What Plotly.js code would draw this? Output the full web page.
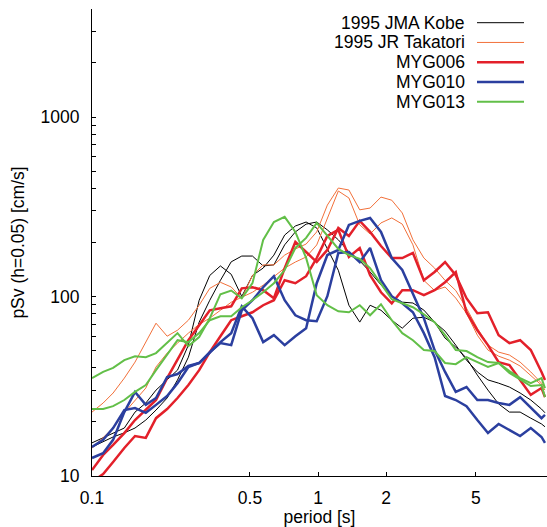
<!DOCTYPE html>
<html><head><meta charset="utf-8">
<script src="https://cdn.plot.ly/plotly-3.0.1.min.js"></script>
<style>html,body{margin:0;padding:0;background:#fff}#chart{width:547px;height:527px}</style>
</head><body><div id="chart"></div>
<script>
const periods = [0.1, 0.112, 0.124, 0.139, 0.155, 0.173, 0.192, 0.215, 0.239, 0.267, 0.298, 0.332, 0.370, 0.413, 0.460, 0.513, 0.572, 0.638, 0.712, 0.794, 0.886, 0.987, 1.10, 1.23, 1.37, 1.53, 1.70, 1.90, 2.12, 2.36, 2.63, 2.94, 3.28, 3.65, 4.07, 4.54, 5.07, 5.65, 6.30, 7.03, 7.84, 8.74, 9.75, 10.1];

const kobeA = [15.3, 16.3, 17.4, 18.5, 22.7, 25.5, 30.1, 34.3, 38.9, 53.6, 95.3, 131, 148, 133, 100, 131, 144, 170, 220, 247, 260, 241, 186, 140, 89.4, 72, 89.4, 83.8, 73.8, 66.6, 75.7, 76.6, 72, 64.1, 53.6, 44.2, 38, 34.3, 32.9, 31.3, 29, 26.5, 23.6, 22.5];
const kobeB = [14.5, 15.5, 16.5, 17.4, 18.5, 20.5, 23.3, 27.2, 34.3, 45.9, 72, 95.3, 123, 156, 168, 168, 148, 150, 194, 229, 253, 260, 235, 207, 177, 158, 137, 116, 100, 93, 92, 84, 72, 58.6, 52.3, 45.3, 36.5, 30.1, 25.2, 22.7, 22.7, 21, 19.5, 18.8];

const takatoriA = [22.7, 25.5, 29.0, 35.1, 43.1, 55.7, 71.0, 60.1, 64.9, 73.8, 89.4, 111, 120, 113, 97.8, 131, 150, 150, 170, 184, 196, 229, 323, 402, 392, 304, 311, 358, 344, 292, 207, 164, 144, 123, 108, 86, 66.6, 53.6, 49, 47.2, 43.1, 38, 32.9, 30.9];
const takatoriB = [14.3, 16.3, 18.5, 22.5, 26.5, 30.9, 40.5, 48.4, 55, 62.5, 70, 75.7, 83.8, 92.9, 99.1, 105.6, 115.6, 129.7, 144, 155.6, 166, 193.7, 274, 387, 354, 250.6, 223, 257, 274, 253, 194, 123, 108, 113, 98, 80.6, 60.9, 50.3, 46.5, 44.2, 41, 36.5, 32.1, 30.1];

const myg006A = [10.8, 13.1, 14.9, 17.35, 20.5, 23.3, 26.5, 35.1, 44.2, 57.1, 69.2, 83.8, 86, 88.2, 111, 112.6, 108.4, 97.8, 144, 201.3, 177, 155.6, 181.7, 241.1, 217.5, 263.8, 229, 191.2, 163.8, 163.8, 174.8, 123.2, 136.9, 155.6, 131.4, 97.8, 80.6, 81.7, 60.9, 55, 57.1, 50.3, 38, 34.3];
const myg006B = [9.26, 10.26, 11.97, 14.32, 16.7, 16.3, 21, 23.6, 27.2, 32.1, 38.9, 49, 60.1, 73.8, 77.6, 81.7, 89.4, 95.3, 123.2, 118.6, 129.7, 163.8, 217.5, 235, 166, 186.4, 131.4, 105.6, 91.7, 108.4, 108.4, 101.7, 108.4, 120.1, 136.9, 81.7, 64.9, 53.6, 43.1, 41.5, 34.3, 28.3, 30.9, 27.5];

const myg010A = [12.6, 13.4, 15.9, 22.7, 29.4, 24.9, 27.2, 35.6, 37, 41, 42.6, 48.4, 55.7, 62.5, 88.2, 75.7, 55.7, 60.9, 53.6, 60.1, 66.6, 118.6, 170.3, 181.7, 250.6, 263.8, 274, 229, 163.8, 140.4, 103, 75.7, 50.3, 38, 29.4, 31.3, 26.5, 26.5, 25.5, 24.9, 27.5, 23.9, 21, 21.9];
const myg010B = [14.5, 15.9, 18.5, 23.3, 23.9, 22.5, 24.9, 27.9, 32.9, 40.5, 42.6, 49, 55, 53.6, 83.8, 95.3, 112.6, 129.7, 95.3, 78.6, 73.8, 72.9, 100.4, 174.8, 177, 155.6, 186.4, 123.2, 100.4, 91.7, 81.7, 62.5, 45.9, 27.9, 26.5, 24.5, 20.5, 17.35, 19.5, 18, 16.7, 18.5, 16.5, 15.3];

const myg013A = [35.1, 38, 40, 44.2, 46.5, 45.9, 48.4, 55, 62.5, 52.9, 59.4, 75.7, 103, 108, 97.8, 118.6, 206.6, 260, 278, 229, 164, 101.7, 89.4, 82.7, 81.7, 89.4, 78.6, 90.5, 73.8, 62.5, 57.1, 50.3, 49.7, 42.6, 42, 45.9, 43.1, 40.5, 42.6, 38.4, 35.1, 32.9, 35.1, 30.9];
const myg013B = [23.6, 23.6, 24.5, 26.5, 29.4, 32.1, 38.9, 47.2, 57.1, 55.7, 62.5, 73.8, 77.6, 77.6, 87.1, 95.3, 105.6, 118.6, 140.4, 186.4, 212, 257, 217.5, 184, 170.3, 162, 144, 117, 96.5, 91.7, 87.1, 79.6, 72, 60.9, 50.3, 49.7, 45.9, 43.1, 42.6, 37.5, 34.3, 31.7, 32.1, 27.5];

const seriesNames = ['1995 JMA Kobe', '1995 JR Takatori', 'MYG006', 'MYG010', 'MYG013'];
const seriesComponents = [[kobeA, kobeB], [takatoriA, takatoriB], [myg006A, myg006B], [myg010A, myg010B], [myg013A, myg013B]];

const xTickVals = [0.1, 0.5, 1, 2, 5];
const xTickText = ['0.1', '0.5', '1', '2', '5'];
const yTickVals = [10, 100, 1000];
const yTickText = ['10', '100', '1000'];
const yMinorVals = [20, 30, 40, 50, 60, 70, 80, 90, 200, 300, 400, 500, 600, 700, 800, 900, 2000, 3000];

// styles
const colors = ['#000000', '#f2703a', '#e3202a', '#2b3f9f', '#62bf48'];
const widths = [1, 1, 2.5, 2.5, 2];
const FONT = 'Liberation Sans, Arial, Helvetica, sans-serif';
const FS = 17.5;

const traces = [];
seriesComponents.forEach((comps, s) => {
  comps.forEach((vals, c) => {
    traces.push({
      type: 'scatter', mode: 'lines',
      x: periods, y: vals,
      name: seriesNames[s], legendgroup: seriesNames[s], showlegend: false,
      line: {color: colors[s], width: widths[s]},
      hoverinfo: 'x+y+name'
    });
  });
});

// legend drawn at top-right: text right-aligned, line sample to the right
const plotL = 92, plotR = 547, plotT = 9, plotB = 476;
const pw = plotR - plotL, ph = plotB - plotT;
const px = v => (v - plotL) / pw;
const py = v => (plotB - v) / ph;
const annotations = [], shapes = [];
seriesNames.forEach((n, s) => {
  const yc = 22.7 + s * 19.75;
  annotations.push({
    xref: 'paper', yref: 'paper', x: px(467), y: py(yc),
    xanchor: 'right', yanchor: 'middle', showarrow: false,
    text: n, font: {family: FONT, size: FS, color: '#000'}
  });
  shapes.push({
    type: 'line', xref: 'paper', yref: 'paper',
    x0: px(477), x1: px(524), y0: py(yc), y1: py(yc),
    line: {color: colors[s], width: widths[s]}
  });
});

const layout = {
  width: 547, height: 527,
  margin: {l: plotL, r: 547 - plotR, t: plotT, b: 527 - plotB},
  paper_bgcolor: '#fff', plot_bgcolor: '#fff',
  showlegend: false,
  font: {family: FONT, size: FS, color: '#000'},
  xaxis: {
    type: 'log', range: [-1, 1.0133],
    tickmode: 'array', tickvals: xTickVals, ticktext: xTickText,
    ticks: 'inside', ticklen: 4, tickcolor: '#000', tickwidth: 1,
    showline: true, linecolor: '#000', linewidth: 1, mirror: false,
    showgrid: false, zeroline: false,
    tickfont: {family: FONT, size: FS, color: '#000'},
    ticklabelstandoff: 6,
    title: {text: 'period [s]', font: {family: FONT, size: FS, color: '#000'}, standoff: 2}
  },
  yaxis: {
    type: 'log', range: [1, 3.6017],
    tickmode: 'array', tickvals: yTickVals, ticktext: yTickText,
    ticks: 'inside', ticklen: 4, tickcolor: '#000', tickwidth: 1,
    minor: {tickmode: 'array', tickvals: yMinorVals, ticks: 'inside', ticklen: 4, tickcolor: '#000', tickwidth: 1, showgrid: false},
    showline: true, linecolor: '#000', linewidth: 1, mirror: false,
    showgrid: false, zeroline: false,
    tickfont: {family: FONT, size: FS, color: '#000'},
    ticklabelstandoff: 8,
    title: {text: 'pSv (h=0.05) [cm/s]', font: {family: FONT, size: FS, color: '#000'}, standoff: 11}
  },
  annotations: annotations,
  shapes: shapes
};

Plotly.newPlot('chart', traces, layout, {displayModeBar: false, staticPlot: true});
</script>
</body></html>
